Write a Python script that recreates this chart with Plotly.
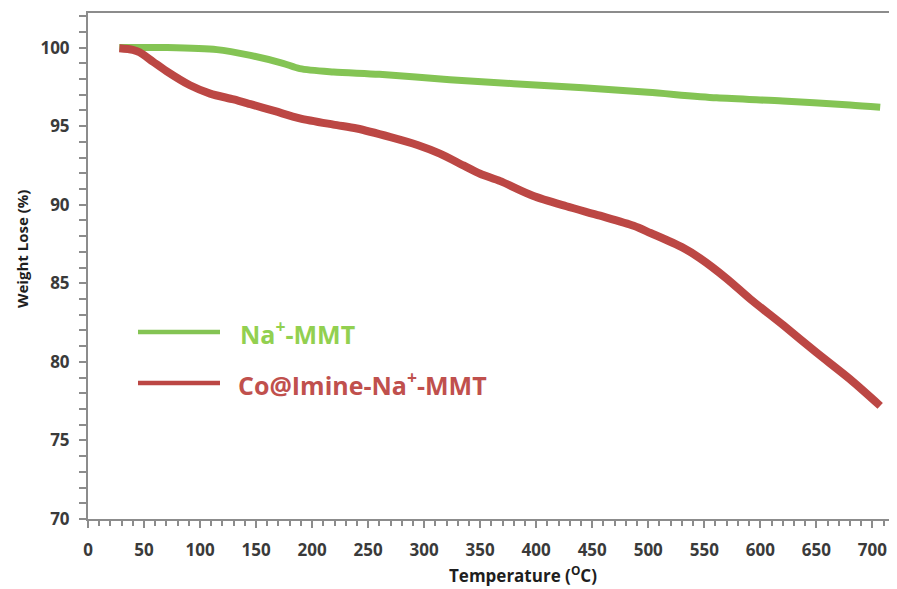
import plotly.graph_objects as go

# Na+-MMT (green)
temp_na = [28, 70, 115, 145, 174, 189, 219, 260, 323, 380, 442, 500, 561, 620, 680, 707]
wt_na = [100.0, 100.0, 99.87, 99.5, 99.0, 98.66, 98.45, 98.3, 97.95, 97.7, 97.45, 97.15, 96.8, 96.6, 96.35, 96.2]

# Co@Imine-Na+-MMT (red)
temp_co = [28, 40, 46, 58, 70, 91, 109, 130, 145, 167, 189, 219, 240, 270, 294, 314, 335, 350, 368, 397, 427, 457,
           487, 502, 530, 546, 570, 591, 621, 650, 680, 707]
wt_co = [99.95, 99.85, 99.7, 99.1, 98.5, 97.6, 97.07, 96.7, 96.4, 95.95, 95.5, 95.1, 94.85, 94.3, 93.8, 93.25, 92.5,
         91.97, 91.5, 90.57, 89.9, 89.3, 88.66, 88.2, 87.3, 86.6, 85.3, 84.0, 82.3, 80.6, 78.9, 77.2]

x_ticks = list(range(0, 701, 50))
y_ticks = [70, 75, 80, 85, 90, 95, 100]

green = "#84C454"
red = "#BC4744"
green_txt = "#92D050"
red_txt = "#C0504D"

fig = go.Figure()
fig.add_trace(go.Scatter(x=temp_na, y=wt_na, mode="lines",
                         line=dict(color=green, width=7, shape="spline", smoothing=0.8), showlegend=False))
fig.add_trace(go.Scatter(x=temp_co, y=wt_co, mode="lines",
                         line=dict(color=red, width=8, shape="spline", smoothing=0.8), showlegend=False))

font_fam = "Open Sans"
axis_col = "#8C8C8C"
tick_font = dict(family=font_fam, size=17, color="#3A3A3A", weight="bold")

fig.update_xaxes(
    range=[0, 722], tickmode="array", tickvals=x_ticks, ticktext=[str(v) for v in x_ticks],
    showline=True, linecolor=axis_col, linewidth=2, mirror=True,
    ticks="outside", ticklen=7, tickcolor=axis_col, tickwidth=1.5, ticklabelstandoff=8,
    minor=dict(dtick=10, tick0=0, ticks="outside", ticklen=5, tickcolor=axis_col, tickwidth=1.5, showgrid=False),
    showgrid=False, zeroline=False, automargin=False,
    tickfont=tick_font,
)
fig.update_yaxes(
    range=[70, 102.2], tickmode="array", tickvals=y_ticks,
    showline=True, linecolor=axis_col, linewidth=2,
    ticks="outside", ticklen=7, tickcolor=axis_col, tickwidth=1.5, ticklabelstandoff=6,
    minor=dict(dtick=1, tick0=70, ticks="outside", ticklen=7, tickcolor=axis_col, tickwidth=1.5, showgrid=False),
    showgrid=False, zeroline=False, automargin=False,
    tickfont=tick_font,
)

# axis titles
fig.add_annotation(xref="paper", yref="paper", x=(515-80)/809, y=(511-566)/506, xanchor="center", yanchor="middle",
                   text="<b>Temperature (<sup>O</sup>C)</b>", showarrow=False,
                   font=dict(family=font_fam, size=17, color="#1E1E1E"))
fig.add_annotation(xref="paper", yref="paper", x=(14-80)/809, y=(511-241)/506, xanchor="center", yanchor="middle",
                   text="<b>Weight Lose (%)</b>", showarrow=False, textangle=-90,
                   font=dict(family=font_fam, size=15, color="#1E1E1E"))

# legend drawn manually
fig.add_shape(type="line", xref="paper", yref="paper", x0=(130-80)/809, x1=(212-80)/809, y0=(511-324)/506, y1=(511-324)/506,
              line=dict(color=green, width=4.5))
fig.add_shape(type="line", xref="paper", yref="paper", x0=(130-80)/809, x1=(212-80)/809, y0=(511-375)/506, y1=(511-375)/506,
              line=dict(color=red, width=4.5))
fig.add_annotation(xref="paper", yref="paper", x=(230-80)/809, y=(511-324)/506, xanchor="left", yanchor="middle",
                   text="<b>Na<sup>+</sup>-MMT</b>", showarrow=False, font=dict(family=font_fam, size=25, color=green_txt))
fig.add_annotation(xref="paper", yref="paper", x=(228-80)/809, y=(511-375)/506, xanchor="left", yanchor="middle",
                   text="<b>Co@Imine-Na<sup>+</sup>-MMT</b>", showarrow=False, font=dict(family=font_fam, size=25, color=red_txt))

fig.update_layout(
    width=889, height=581,
    margin=dict(l=80, r=0, t=5, b=70),
    plot_bgcolor="white", paper_bgcolor="white",
)
fig.write_html("out.html")
